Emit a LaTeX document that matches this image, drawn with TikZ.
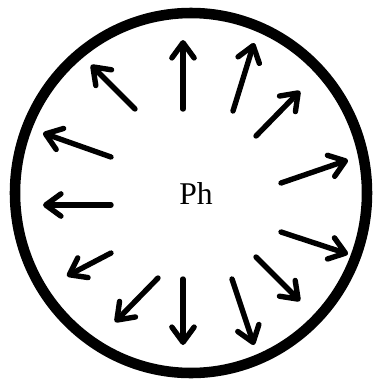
\documentclass[tikz,border=0pt]{standalone}
\usepackage{fontspec}
\setmainfont{Liberation Serif}
\usetikzlibrary{arrows.meta}

\begin{document}
\begin{tikzpicture}[
  x=0.03cm, y=-0.03cm,
  rim/.style ={draw=black, line width=9pt},
  ray/.style ={-{Straight Barb[length=13pt,width=19pt,round]}, line width=4.6pt,
               line cap=round, draw=black},
  lbl/.style ={font=\fontsize{27}{30}\selectfont, inner sep=0pt},
]
\useasboundingbox (0,0) rectangle (373,380);

% ============ OUTER RIM ============
\draw[rim] (191,193) ellipse [x radius=176, y radius=180];

% ============ CENTRE LABEL ============
\node[lbl] (ph) at (196,194) {Ph};

% ============ RADIAL ARROWS (tail / head) ============
\foreach \i/\tx/\ty/\hx/\hy in {
   1/183/109/183/40,
   2/233/111/254/43,
   3/256/136/300/91,
   4/281/183/348/160,
   5/281/232/348/254,
   6/256/257/300/301,
   7/232/279/254/345,
   8/183/279/183/345,
   9/158/278/115/322,
  10/111/253/67/276,
  11/111/205/43/205,
  12/111/157/43/133,
  13/135/109/91/65}{
  \coordinate (t\i) at (\tx,\ty);
  \coordinate (h\i) at (\hx,\hy);
  \draw[ray] (t\i) -- (h\i);
}

\end{tikzpicture}
\end{document}
